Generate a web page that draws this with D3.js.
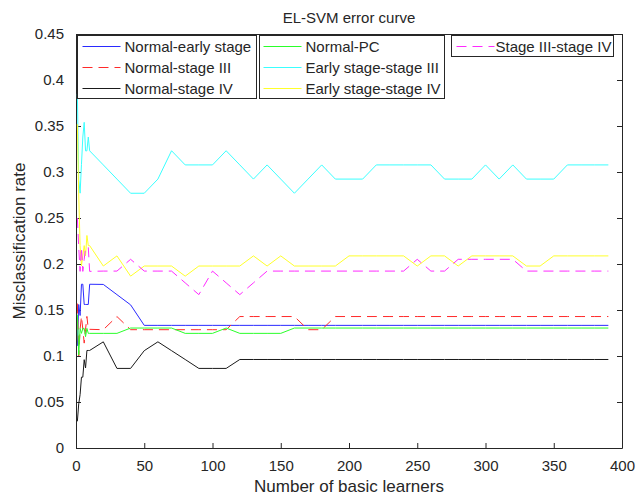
<!DOCTYPE html>
<html><head><meta charset="utf-8">
<script src="https://cdn.jsdelivr.net/npm/d3@7"></script>
<style>body{margin:0;background:#fff;} text{font-family:"Liberation Sans",Arial,Helvetica,sans-serif;}</style>
</head><body>
<svg id="chart" width="638" height="497"></svg>
<script>
// ---- data ----
const xValues = [1,2,3,4,5,6,7,8,9,10,20,30,40,50,60,70,80,90,100,110,120,130,140,150,160,170,180,190,200,210,220,230,240,250,260,270,280,290,300,310,320,330,340,350,360,370,380,390];
const normalEarly = [0.111,0.156,0.144,0.178,0.178,0.156,0.156,0.156,0.156,0.178,
  0.1778,0.1667,0.1556,0.1333,0.1333,0.1333,0.1333,0.1333,0.1333,0.1333,0.1333,0.1333,0.1333,0.1333,0.1333,0.1333,0.1333,0.1333,0.1333,0.1333,0.1333,0.1333,0.1333,0.1333,0.1333,0.1333,0.1333,0.1333,0.1333,0.1333,0.1333,0.1333,0.1333,0.1333,0.1333,0.1333,0.1333,0.1333];
const normalStage3 = [0.157,0.100,0.129,0.143,0.129,0.114,0.129,0.143,0.129,0.129,
  0.1286,0.1429,0.1286,0.1286,0.1286,0.1286,0.1286,0.1286,0.1286,0.1286,0.1429,0.1429,0.1429,0.1429,0.1429,0.1286,0.1286,0.1429,0.1429,0.1429,0.1429,0.1429,0.1429,0.1429,0.1429,0.1429,0.1429,0.1429,0.1429,0.1429,0.1429,0.1429,0.1429,0.1429,0.1429,0.1429,0.1429,0.1429];
const normalStage4 = [0.029,0.048,0.058,0.077,0.077,0.096,0.087,0.106,0.106,0.106,
  0.1154,0.0865,0.0865,0.1058,0.1154,0.1058,0.0962,0.0865,0.0865,0.0865,0.0962,0.0962,0.0962,0.0962,0.0962,0.0962,0.0962,0.0962,0.0962,0.0962,0.0962,0.0962,0.0962,0.0962,0.0962,0.0962,0.0962,0.0962,0.0962,0.0962,0.0962,0.0962,0.0962,0.0962,0.0962,0.0962,0.0962,0.0962];
const normalPC = [0.145,0.101,0.130,0.1246,0.130,0.130,0.121,0.130,0.1246,0.1246,
  0.1246,0.1246,0.1304,0.1304,0.1304,0.1304,0.1246,0.1246,0.1246,0.1304,0.1246,0.1246,0.1246,0.1246,0.1304,0.1304,0.1304,0.1304,0.1304,0.1304,0.1304,0.1304,0.1304,0.1304,0.1304,0.1304,0.1304,0.1304,0.1304,0.1304,0.1304,0.1304,0.1304,0.1304,0.1304,0.1304,0.1304,0.1304];
const earlyStage3 = [0.385,0.292,0.277,0.308,0.338,0.354,0.323,0.323,0.338,0.323,
  0.3077,0.2923,0.2769,0.2769,0.2923,0.3231,0.3077,0.3077,0.3077,0.3231,0.3077,0.2923,0.3077,0.2923,0.2769,0.2923,0.3077,0.2923,0.2923,0.2923,0.3077,0.3077,0.3077,0.3077,0.3077,0.2923,0.2923,0.2923,0.3077,0.2923,0.3077,0.2923,0.2923,0.2923,0.3077,0.3077,0.3077,0.3077];
const earlyStage4 = [0.352,0.275,0.220,0.198,0.209,0.220,0.209,0.231,0.220,0.220,
  0.1978,0.2088,0.1868,0.1978,0.1978,0.1978,0.1868,0.1978,0.1978,0.1978,0.1978,0.2088,0.1978,0.2088,0.1978,0.1978,0.1978,0.1978,0.2088,0.2088,0.2088,0.2088,0.2088,0.1978,0.2088,0.2088,0.1978,0.2088,0.2088,0.2088,0.2088,0.1978,0.1978,0.2088,0.2088,0.2088,0.2088,0.2088];
const stage3Stage4 = [0.250,0.218,0.192,0.218,0.192,0.205,0.218,0.218,0.218,0.192,
  0.1923,0.1923,0.2051,0.1923,0.1923,0.1923,0.1795,0.1667,0.1923,0.1795,0.1667,0.1795,0.1923,0.1923,0.1923,0.1923,0.1923,0.1923,0.1923,0.1923,0.1923,0.1923,0.1923,0.2051,0.1923,0.1923,0.2051,0.2051,0.2051,0.2051,0.2051,0.1923,0.1923,0.1923,0.1923,0.1923,0.1923,0.1923];
const seriesNames = ["Normal-early stage","Normal-stage III","Normal-stage IV","Normal-PC","Early stage-stage III","Early stage-stage IV","Stage III-stage IV"];
const xTicks = [0,50,100,150,200,250,300,350,400];
const xTickLabels = ["0","50","100","150","200","250","300","350","400"];
const yTicks = [0,0.05,0.1,0.15,0.2,0.25,0.3,0.35,0.4,0.45];
const yTickLabels = ["0","0.05","0.1","0.15","0.2","0.25","0.3","0.35","0.4","0.45"];
const titleText = "EL-SVM error curve";
const xLabelText = "Number of basic learners";
const yLabelText = "Misclassification rate";

// ---- styles ----
const seriesValues = [normalEarly, normalStage3, normalStage4, normalPC, earlyStage3, earlyStage4, stage3Stage4];
const colors = ["#2a2aff","#ff2a2a","#1a1a1a","#2aff2a","#3affff","#ffff2a","#ff2aff"];
const dashes = [null,"10,6",null,null,null,null,"10,6"];
const txt = "#262626";

const svg = d3.select("#chart");
const L = 76, R = 622, T = 34, B = 448;
const x = d3.scaleLinear().domain([0,400]).range([L,R]);
const y = d3.scaleLinear().domain([0,0.45]).range([B,T]);

svg.append("rect").attr("x",0).attr("y",0).attr("width",638).attr("height",497).attr("fill","#fff");
svg.append("defs").append("clipPath").attr("id","clip").append("rect")
  .attr("x",L).attr("y",T).attr("width",R-L).attr("height",B-T);

// axes
const tl = 5;
const axB = svg.append("g").attr("transform",`translate(0,${B})`)
  .call(d3.axisBottom(x).tickValues(xTicks).tickFormat((d,i)=>xTickLabels[i]).tickSizeInner(-tl).tickSizeOuter(0).tickPadding(12));
const axT = svg.append("g").attr("transform",`translate(0,${T})`)
  .call(d3.axisTop(x).tickValues(xTicks).tickFormat("").tickSizeInner(-tl).tickSizeOuter(0));
const axL = svg.append("g").attr("transform",`translate(${L},0)`)
  .call(d3.axisLeft(y).tickValues(yTicks).tickFormat((d,i)=>yTickLabels[i]).tickSizeInner(-tl).tickSizeOuter(0).tickPadding(12));
const axR = svg.append("g").attr("transform",`translate(${R},0)`)
  .call(d3.axisRight(y).tickValues(yTicks).tickFormat("").tickSizeInner(-tl).tickSizeOuter(0));
[axB,axT,axL,axR].forEach(a=>{
  a.selectAll("path").attr("stroke",txt).attr("stroke-width",1);
  a.selectAll("line").attr("stroke",txt);
  a.selectAll("text").attr("fill",txt).style("font-size","15px");
});

// lines
const plot = svg.append("g").attr("clip-path","url(#clip)");
const line = d3.line().x((d,i)=>x(xValues[i])).y(d=>y(d));
seriesValues.forEach((vals,k)=>{
  plot.append("path").datum(vals).attr("d",line)
    .attr("fill","none").attr("stroke",colors[k]).attr("stroke-width",1)
    .attr("stroke-dasharray",dashes[k]);
});

// title / labels
svg.append("text").attr("x",(L+R)/2).attr("y",23).attr("text-anchor","middle")
  .attr("fill",txt).style("font-size","15px").text(titleText);
svg.append("text").attr("x",(L+R)/2).attr("y",492).attr("text-anchor","middle")
  .attr("fill",txt).style("font-size","17px").text(xLabelText);
svg.append("text").attr("transform",`translate(25,${(T+B)/2}) rotate(-90)`).attr("text-anchor","middle")
  .attr("fill",txt).style("font-size","17px").text(yLabelText);

// legends
const legendBoxes = [
  {x:77.5,y:35.5,w:179,h:63,items:[0,1,2],lx:5,tx:47},
  {x:259.5,y:35.5,w:185,h:63,items:[3,4,5],lx:4,tx:46},
  {x:451.5,y:35.5,w:162,h:21,items:[6],lx:5,tx:44}
];
legendBoxes.forEach(b=>{
  const g = svg.append("g");
  g.append("rect").attr("x",b.x).attr("y",b.y).attr("width",b.w).attr("height",b.h)
    .attr("fill","#fff").attr("stroke",txt).attr("stroke-width",1);
  b.items.forEach((k,j)=>{
    const cy = b.y + 11 + j*21;
    g.append("line").attr("x1",b.x+b.lx).attr("x2",b.x+b.lx+38).attr("y1",cy).attr("y2",cy)
      .attr("stroke",colors[k]).attr("stroke-width",1).attr("stroke-dasharray",dashes[k]);
    g.append("text").attr("x",b.x+b.tx).attr("y",cy+5).attr("fill",txt)
      .style("font-size","15px").text(seriesNames[k]);
  });
});
</script>
</body></html>
